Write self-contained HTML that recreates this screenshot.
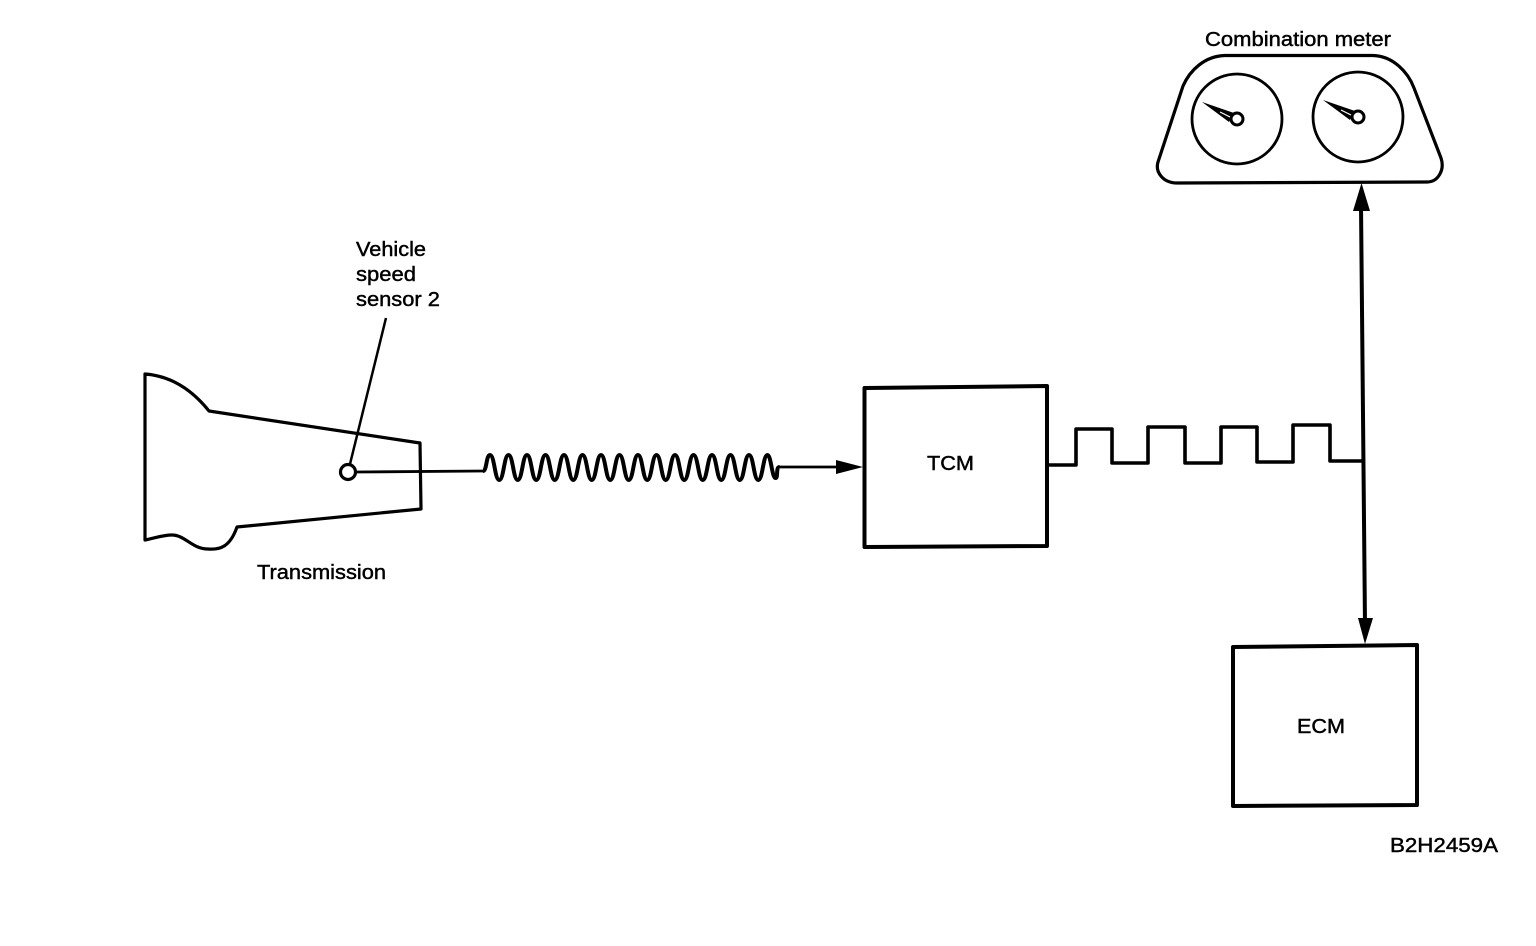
<!DOCTYPE html>
<html>
<head>
<meta charset="utf-8">
<style>
html,body{margin:0;padding:0;background:#fff;width:1536px;height:946px;overflow:hidden}
svg{display:block}
text{font-family:"Liberation Sans",sans-serif;font-size:20px;fill:#000;stroke:#000;stroke-width:.45}
</style>
</head>
<body>
<svg width="1536" height="946" viewBox="0 0 1536 946" xmlns="http://www.w3.org/2000/svg">
<rect width="1536" height="946" fill="#fff"/>
<g fill="none" stroke="#000" stroke-width="3.2" stroke-linejoin="round">
<!-- Transmission -->
<path d="M145 374C172 376 193 391 209 411L420 443L421 509L237 527C230 547 220 550 208 549C192 549 185 535 172 535C163 535 155 538 145 540Z"/>
<path d="M386 318L350 464" stroke-width="2.5"/>
<circle cx="348" cy="472" r="7.500"/>
<path d="M356 472L483 471" stroke-width="2.800"/>
<!-- Coil -->
<path stroke-width="4" d="M483 471C487 471 486 455 490 455
c4.500 0 4.750 25 9.250 25c4.500 0 4.750 -25 9.250 -25
c4.500 0 4.750 25 9.250 25c4.500 0 4.750 -25 9.250 -25
c4.500 0 4.750 25 9.250 25c4.500 0 4.750 -25 9.250 -25
c4.500 0 4.750 25 9.250 25c4.500 0 4.750 -25 9.250 -25
c4.500 0 4.750 25 9.250 25c4.500 0 4.750 -25 9.250 -25
c4.500 0 4.750 25 9.250 25c4.500 0 4.750 -25 9.250 -25
c4.500 0 4.750 25 9.250 25c4.500 0 4.750 -25 9.250 -25
c4.500 0 4.750 25 9.250 25c4.500 0 4.750 -25 9.250 -25
c4.500 0 4.750 25 9.250 25c4.500 0 4.750 -25 9.250 -25
c4.500 0 4.750 25 9.250 25c4.500 0 4.750 -25 9.250 -25
c4.500 0 4.750 25 9.250 25c4.500 0 4.750 -25 9.250 -25
c4.500 0 4.750 25 9.250 25c4.500 0 4.750 -25 9.250 -25
c4.500 0 4.750 25 9.250 25c4.500 0 4.750 -25 9.250 -25
c4.500 0 4.750 25 9.250 25c4.500 0 4.750 -25 9.250 -25
c4.500 0 4.750 25 9.250 25c4.500 0 4.750 -25 9.250 -25
c3.500 0 4.500 23 8 23c3 0 0 -11 4 -11"/>
<path d="M779 467L840 467" stroke-width="2.800"/>
<!-- TCM / ECM -->
<path d="M864.500 388L1047 386V546L864.500 547Z" stroke-width="4"/>
<path d="M1233 647L1417 645V805L1233 806Z" stroke-width="4"/>
<!-- Pulse train -->
<path stroke-width="3.600" d="M1048 465H1076V429H1112V463H1148V427H1185V463H1221V427H1257V462H1293V425H1330V461H1364"/>
<!-- Bus -->
<path d="M1361 205L1365 625" stroke-width="4"/>
<!-- Meter -->
<path d="M1225 55.500H1373C1393 56 1408 72 1414 88L1441 158C1445 170 1438 182 1427 182L1177 183C1163 183 1155 172 1158 162L1183 86C1190 70 1205 56 1225 55.500Z"/>
<circle cx="1237" cy="119" r="45" stroke-width="2.800"/>
<circle cx="1358" cy="117" r="45" stroke-width="2.800"/>
</g>
<g fill="#000" stroke="none">
<path d="M863 467L836 460V474Z"/>
<path d="M1361.500 183L1353 211H1370Z"/>
<path d="M1365 644L1358 618H1373Z"/>
<path d="M1202 102L1234 113L1229 122Z"/>
<path d="M1323 100L1355 111L1350 120Z"/>
</g>
<g fill="#fff" stroke="#000" stroke-width="3">
<circle cx="1237" cy="119" r="6"/>
<circle cx="1358" cy="117" r="6"/>
</g>
<path d="M1230 117L1220 112M1351 115L1341 110" stroke="#fff" stroke-width="1.200" fill="none"/>
<text x="356" y="256" textLength="70" lengthAdjust="spacingAndGlyphs">Vehicle</text>
<text x="356" y="281" textLength="60" lengthAdjust="spacingAndGlyphs">speed</text>
<text x="356" y="306" textLength="84" lengthAdjust="spacingAndGlyphs">sensor 2</text>
<text x="257" y="579" textLength="129" lengthAdjust="spacingAndGlyphs">Transmission</text>
<text x="1205" y="46" textLength="186" lengthAdjust="spacingAndGlyphs">Combination meter</text>
<text x="927" y="470" textLength="47" lengthAdjust="spacingAndGlyphs">TCM</text>
<text x="1297" y="733" textLength="48" lengthAdjust="spacingAndGlyphs">ECM</text>
<text x="1390" y="852" textLength="108" lengthAdjust="spacingAndGlyphs">B2H2459A</text>
</svg>
</body>
</html>
